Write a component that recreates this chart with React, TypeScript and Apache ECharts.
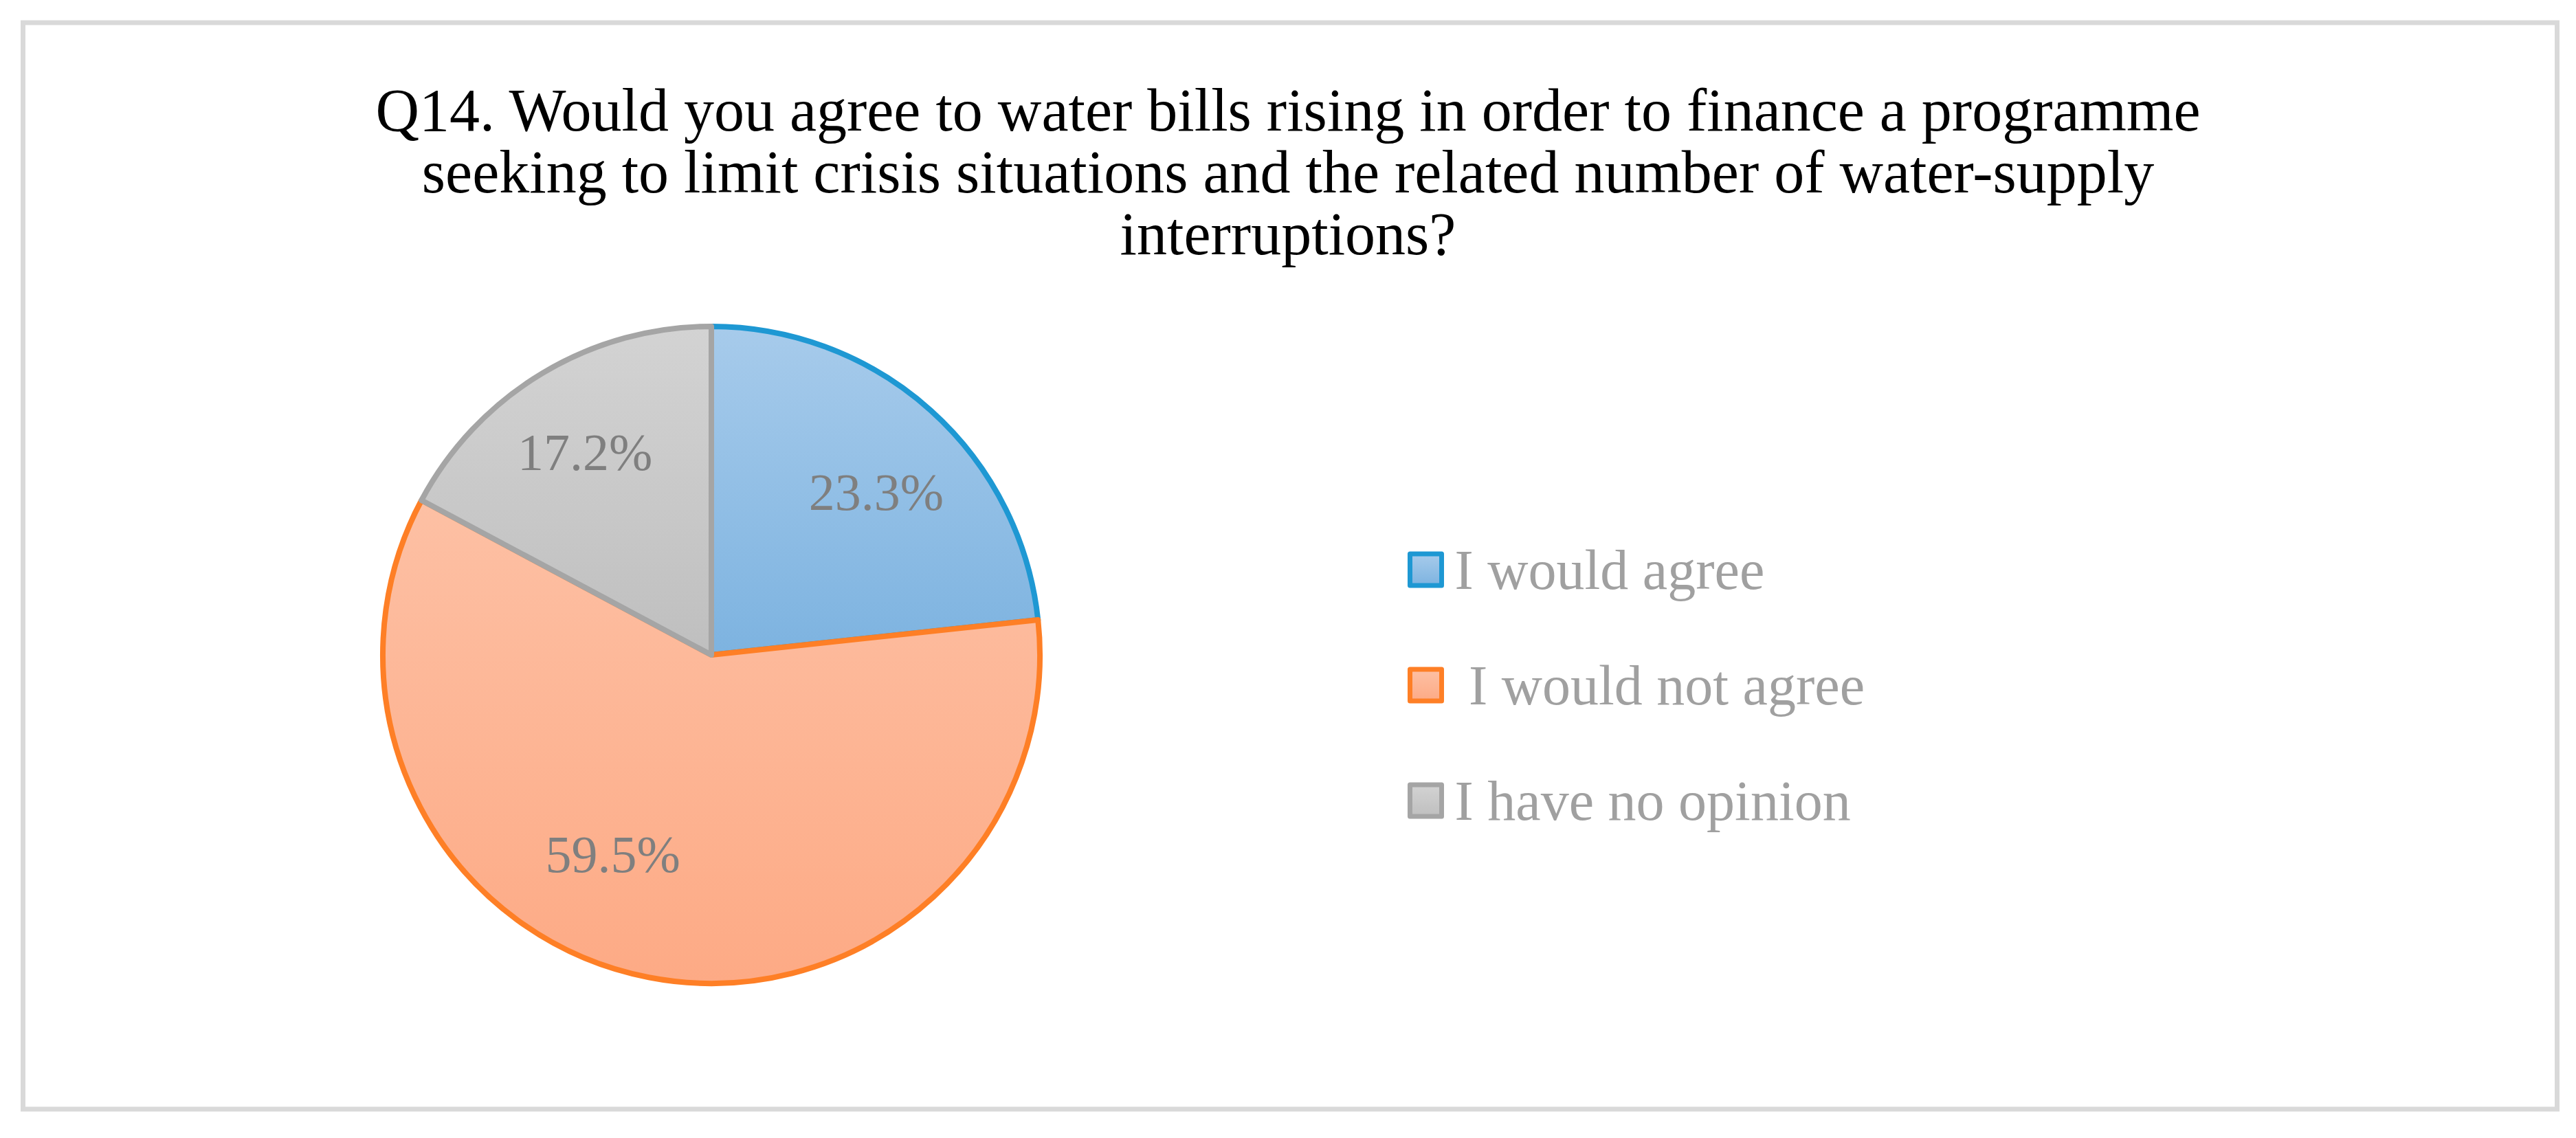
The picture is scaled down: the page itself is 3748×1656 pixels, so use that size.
import React, { useEffect, useRef } from "react";
import * as echarts from "echarts";

const titleText =
  "Q14. Would you agree to water bills rising in order to finance a programme\nseeking to limit crisis situations and the related number of water-supply\ninterruptions?";
const categories = ["I would agree", " I would not agree", "I have no opinion"];
const values = [23.3, 59.5, 17.2];

const fillTop = ["#a7cbeb", "#fdc0a4", "#d3d3d3"];
const fillBottom = ["#7db3e0", "#fdaa85", "#bfbfbf"];
const borderColors = ["#1e98d3", "#fe7f26", "#a5a5a5"];
const labelShift = [
  { dx: 14, dy: 14 },
  { dx: -79, dy: -42 },
  { dx: -10, dy: -5 },
];

const FONT = "'Liberation Serif', 'Times New Roman', serif";

export default function App() {
  const ref = useRef<HTMLDivElement>(null);
  useEffect(() => {
    if (!ref.current) return;
    const chart = echarts.init(ref.current, undefined, { renderer: "svg" });
    const grad = (i: number) =>
      new echarts.graphic.LinearGradient(0, 0, 0, 1, [
        { offset: 0, color: fillTop[i] },
        { offset: 1, color: fillBottom[i] },
      ]);
    const mainData = categories.map((name, i) => ({
      name,
      value: values[i],
      itemStyle: { color: grad(i), borderColor: borderColors[i] },
    }));
    const labelData = categories.map((name, i) => ({ name, value: values[i] }));
    chart.setOption({
      animation: false,
      backgroundColor: "#ffffff",
      title: {
        text: titleText,
        left: "center",
        top: 110,
        textStyle: {
          fontFamily: FONT,
          fontSize: 88,
          fontWeight: "normal",
          color: "#000000",
          lineHeight: 90,
        },
      },
      graphic: [
        {
          type: "rect",
          shape: { x: 33.5, y: 33, width: 3687, height: 1581 },
          style: { fill: "none", stroke: "#d9d9d9", lineWidth: 7 },
          silent: true,
          z: -1,
        },
      ],
      legend: {
        orient: "vertical",
        left: 2043,
        top: 783,
        itemWidth: 46,
        itemHeight: 46,
        itemGap: 86,
        icon: "rect",
        selectedMode: false,
        data: categories,
        itemStyle: { borderWidth: 7, borderJoin: "round" },
        textStyle: {
          fontFamily: FONT,
          fontSize: 82,
          color: "#a0a0a0",
          padding: [0, 0, 0, 14],
        },
      },
      series: [
        {
          type: "pie",
          center: [1035, 953],
          radius: 478,
          startAngle: 90,
          clockwise: true,
          silent: true,
          label: { show: false },
          labelLine: { show: false },
          itemStyle: { borderWidth: 8, borderJoin: "round" },
          emphasis: { disabled: true },
          data: mainData,
        },
        {
          type: "pie",
          center: [1035, 953],
          radius: [192, 478],
          startAngle: 90,
          clockwise: true,
          silent: true,
          legendHoverLink: false,
          itemStyle: { color: "rgba(0,0,0,0)", borderWidth: 0 },
          emphasis: { disabled: true },
          labelLine: { show: false },
          label: {
            show: true,
            position: "inside",
            fontFamily: FONT,
            fontSize: 76,
            color: "#7f7f7f",
            formatter: (p: any) => `${Number(p.value).toFixed(1)}%`,
          },
          labelLayout: (p: any) => labelShift[p.dataIndex] || {},
          data: labelData,
        },
      ],
    });
    return () => chart.dispose();
  }, []);
  return (
    <div
      ref={ref}
      style={{ position: "absolute", left: 0, top: 0, width: 3748, height: 1656 }}
    />
  );
}
